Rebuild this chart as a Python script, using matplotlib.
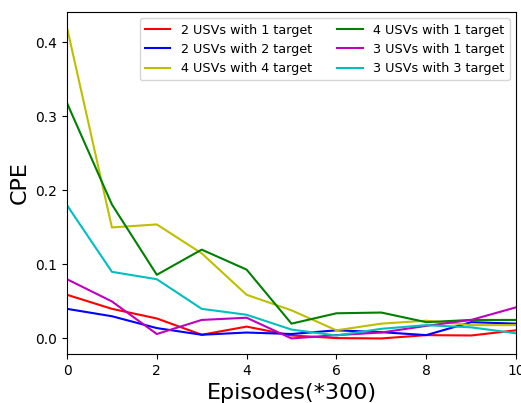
import matplotlib
matplotlib.use("Agg")
from matplotlib import pyplot as plt

episodes = [0, 1, 2, 3, 4, 5, 6, 7, 8, 9, 10]

usv2_t1 = [0.059, 0.040, 0.027, 0.005, 0.016, 0.004, 0.0005, 0.0, 0.0045, 0.004, 0.011]
usv2_t2 = [0.040, 0.030, 0.014, 0.005, 0.008, 0.006, 0.011, 0.0085, 0.0045, 0.022, 0.020]
usv4_t4 = [0.420, 0.150, 0.154, 0.115, 0.059, 0.038, 0.011, 0.020, 0.024, 0.018, 0.018]
usv4_t1 = [0.318, 0.181, 0.086, 0.120, 0.093, 0.020, 0.034, 0.035, 0.022, 0.025, 0.025]
usv3_t1 = [0.080, 0.050, 0.006, 0.025, 0.028, 0.0, 0.0045, 0.008, 0.017, 0.025, 0.042]
usv3_t3 = [0.180, 0.090, 0.080, 0.040, 0.032, 0.012, 0.004, 0.013, 0.018, 0.015, 0.007]

series = [
    ("2 USVs with 1 target", usv2_t1, "r"),
    ("2 USVs with 2 target", usv2_t2, "b"),
    ("4 USVs with 4 target", usv4_t4, "y"),
    ("4 USVs with 1 target", usv4_t1, "g"),
    ("3 USVs with 1 target", usv3_t1, "m"),
    ("3 USVs with 3 target", usv3_t3, "c"),
]


def main():
    fig = plt.figure(figsize=(5.21, 4.03), dpi=100)
    ax = fig.add_axes([0.1286, 0.1216, 0.8618, 0.8486])
    for label, values, color in series:
        ax.plot(episodes, values, color=color, label=label)
    ax.set_xlim(0, 10)
    ax.set_ylabel("CPE", fontsize=16)
    ax.set_xlabel("Episodes(*300)", fontsize=16)
    ax.legend(ncol=2, loc="upper right", fontsize=9.2)
    fig.savefig("out.png", dpi=100)


if __name__ == "__main__":
    main()
